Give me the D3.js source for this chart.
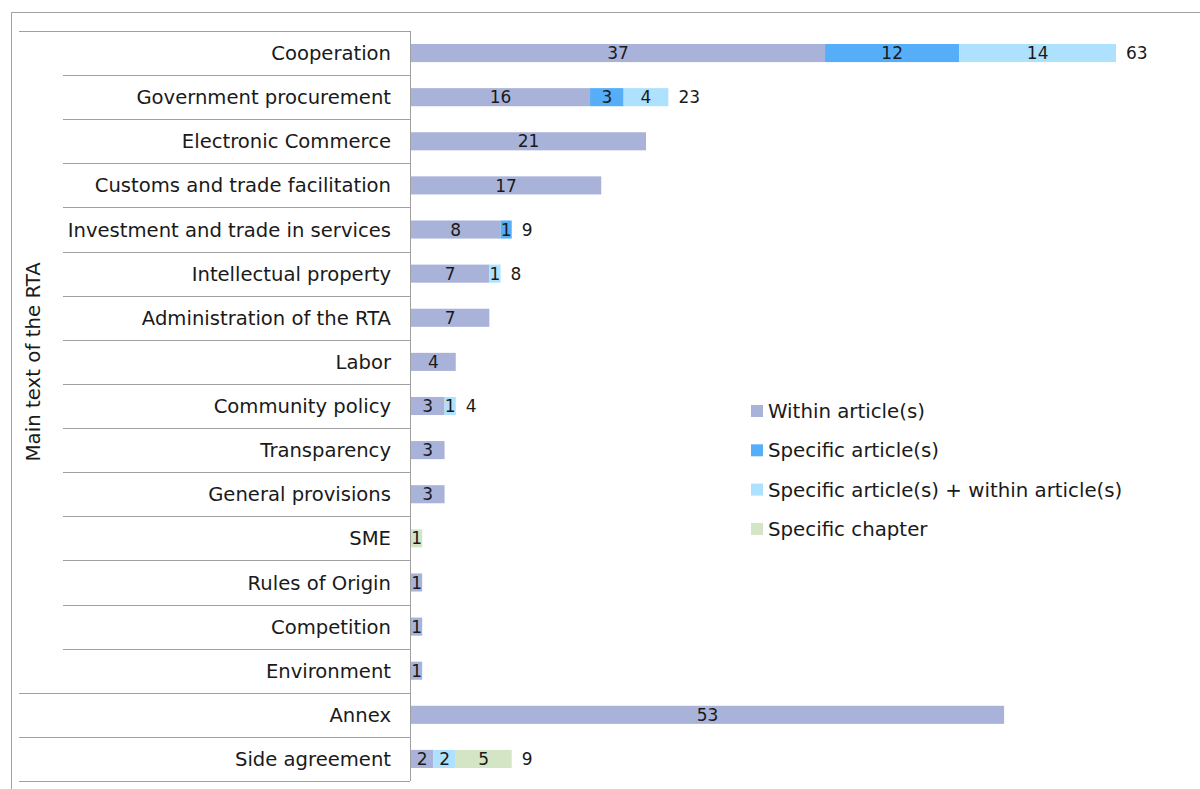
<!DOCTYPE html>
<html><head><meta charset="utf-8">
<script src="https://cdn.jsdelivr.net/npm/d3@7"></script>
<style>body{margin:0;background:#fff}svg{display:block;font-family:"DejaVu Sans",Verdana,sans-serif}</style>
</head><body><svg id="c" width="1200" height="789"></svg>
<script>
const categories = ["Cooperation","Government procurement","Electronic Commerce","Customs and trade facilitation","Investment and trade in services","Intellectual property","Administration of the RTA","Labor","Community policy","Transparency","General provisions","SME","Rules of Origin","Competition","Environment","Annex","Side agreement"];
const groups = ["Main text of the RTA","Main text of the RTA","Main text of the RTA","Main text of the RTA","Main text of the RTA","Main text of the RTA","Main text of the RTA","Main text of the RTA","Main text of the RTA","Main text of the RTA","Main text of the RTA","Main text of the RTA","Main text of the RTA","Main text of the RTA","Main text of the RTA","",""];
const seriesNames = ["Within article(s)","Specific article(s)","Specific article(s) + within article(s)","Specific chapter"];
const withinArticle = [37,16,21,17,8,7,7,4,3,3,3,0,1,1,1,53,2];
const specificArticle = [12,3,0,0,1,0,0,0,0,0,0,0,0,0,0,0,0];
const specificPlusWithin = [14,4,0,0,0,1,0,0,1,0,0,0,0,0,0,0,2];
const specificChapter = [0,0,0,0,0,0,0,0,0,0,0,1,0,0,0,0,5];
const colors = ["#A9B3D9","#56AEF9","#AEE1FD","#D4E5C5"];

const svg = d3.select("#c");
const x0 = 411, x1 = 1116, yTop = 31, yBot = 781;
const x = d3.scaleLinear().domain([0,63]).range([x0,x1]);
const y = d3.scaleBand().domain(categories).range([yTop,yBot]).paddingInner(0.59).paddingOuter(0.295);
const band = d3.scaleBand().domain(categories).range([yTop,yBot]);

const data = categories.map((c,i)=>({cat:c, v:[withinArticle[i],specificArticle[i],specificPlusWithin[i],specificChapter[i]]}));
const stack = d3.stack().keys([0,1,2,3]).value((d,k)=>d.v[k])(data);

// outer frame
svg.append("path").attr("d",`M11.5,789 V12.5 H1200`).attr("fill","none").attr("stroke","#a0a0a0").attr("stroke-width",1);

// bars
stack.forEach((layer,k)=>{
  const g = svg.append("g");
  layer.forEach((s,i)=>{
    const val = s[1]-s[0];
    if(val<=0) return;
    g.append("rect").attr("x",x(s[0])).attr("y",y(categories[i])).attr("width",x(s[1])-x(s[0])).attr("height",y.bandwidth()).attr("fill",colors[k]);
    g.append("text").attr("x",(x(s[0])+x(s[1]))/2).attr("y",y(categories[i])+y.bandwidth()/2).attr("dy","0.36em")
      .attr("text-anchor","middle").attr("font-size",17).attr("fill","#1a1a1a").text(val);
  });
});
// totals
data.forEach((d,i)=>{
  const n = d.v.filter(v=>v>0).length;
  if(n<2) return;
  const t = d3.sum(d.v);
  svg.append("text").attr("x",x(t)+10).attr("y",y(d.cat)+y.bandwidth()/2).attr("dy","0.36em")
    .attr("font-size",17).attr("fill","#1a1a1a").text(t);
});

// axis line and separators
const lc = "#a0a0a0";
svg.append("line").attr("x1",410.5).attr("x2",410.5).attr("y1",yTop).attr("y2",yBot).attr("stroke",lc);
categories.forEach((c,i)=>{
  const yb = Math.round(band(c)+band.bandwidth())+0.5;
  const groupEnd = i===categories.length-1 || groups[i]!==groups[i+1] || groups[i]==="" ;
  svg.append("line").attr("x1",groupEnd?19:63).attr("x2",410).attr("y1",yb).attr("y2",yb).attr("stroke",lc);
});
svg.append("line").attr("x1",19).attr("x2",410).attr("y1",yTop+0.5).attr("y2",yTop+0.5).attr("stroke",lc);

// category labels
categories.forEach(c=>{
  svg.append("text").attr("x",391).attr("y",band(c)+band.bandwidth()/2).attr("dy","0.36em")
    .attr("text-anchor","end").attr("font-size",19.6).attr("fill","#1a1a1a").text(c);
});
// group label
const gi = groups.map((g,i)=>g?i:-1).filter(i=>i>=0);
const gyc = (band(categories[gi[0]]) + band(categories[gi[gi.length-1]])+band.bandwidth())/2;
svg.append("text").attr("transform",`translate(40,${gyc}) rotate(-90)`).attr("text-anchor","middle")
  .attr("font-size",19.8).attr("fill","#1a1a1a").text("Main text of the RTA");

// legend
const leg = svg.append("g");
seriesNames.forEach((s,k)=>{
  const ly = 411 + k*39.3;
  leg.append("rect").attr("x",751).attr("y",ly-6).attr("width",12).attr("height",12).attr("fill",colors[k]);
  leg.append("text").attr("x",768).attr("y",ly).attr("dy","0.36em").attr("font-size",19.8).attr("fill","#1a1a1a").text(s);
});
</script></body></html>
